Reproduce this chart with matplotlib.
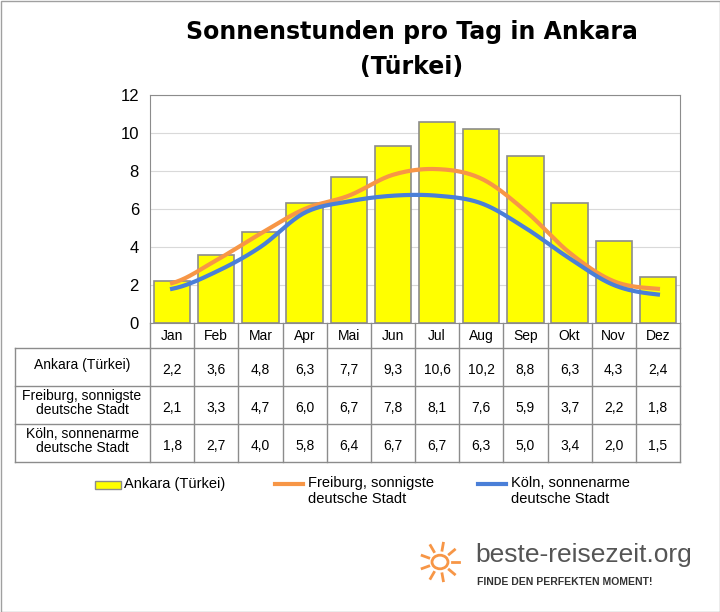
import numpy as np
import matplotlib.pyplot as plt
from matplotlib.lines import Line2D
from matplotlib.patches import Rectangle, Circle

plt.rcParams['font.family'] = 'Liberation Sans'

months = ["Jan", "Feb", "Mar", "Apr", "Mai", "Jun", "Jul", "Aug", "Sep", "Okt", "Nov", "Dez"]
ankara = [2.2, 3.6, 4.8, 6.3, 7.7, 9.3, 10.6, 10.2, 8.8, 6.3, 4.3, 2.4]
freiburg = [2.1, 3.3, 4.7, 6.0, 6.7, 7.8, 8.1, 7.6, 5.9, 3.7, 2.2, 1.8]
koeln = [1.8, 2.7, 4.0, 5.8, 6.4, 6.7, 6.7, 6.3, 5.0, 3.4, 2.0, 1.5]
row_labels = ["Ankara (Türkei)", "Freiburg, sonnigste\ndeutsche Stadt", "Köln, sonnenarme\ndeutsche Stadt"]

W, H = 720, 612
fig = plt.figure(figsize=(W / 100, H / 100), dpi=100)
fig.add_artist(Rectangle((0.5 / W, 0.5 / H), 1 - 1 / W, 1 - 1 / H, transform=fig.transFigure,
                         fill=False, edgecolor='#a0a0a0', lw=1))

def fx(px): return px / W
def fy(py): return 1 - py / H

L, R, T, B = 150, 680, 95, 323
ax = fig.add_axes([fx(L), fy(B), fx(R - L), (B - T) / H])
x = np.arange(12)
ax.bar(x, ankara, width=0.82, color='#FFFF00', edgecolor='#8c8c8c', lw=1.2, zorder=2)

def smooth(vals, n=20):
    p = np.array(vals, dtype=float)
    p = np.concatenate([[p[0]], p, [p[-1]]])
    xs, ys = [], []
    for i in range(1, len(p) - 2):
        t = np.linspace(0, 1, n, endpoint=False)
        p0, p1, p2, p3 = p[i - 1], p[i], p[i + 1], p[i + 2]
        y = 0.5 * (2 * p1 + (-p0 + p2) * t + (2 * p0 - 5 * p1 + 4 * p2 - p3) * t ** 2
                   + (-p0 + 3 * p1 - 3 * p2 + p3) * t ** 3)
        xs.extend(i - 1 + t); ys.extend(y)
    xs.append(len(vals) - 1); ys.append(vals[-1])
    return xs, ys

ax.plot(*smooth(freiburg), color='#F79646', lw=3, zorder=3)
ax.plot(*smooth(koeln), color='#4A7FD8', lw=3, zorder=4)
ax.set_xlim(-0.5, 11.5)
ax.set_ylim(0, 12)
ax.set_yticks(range(0, 13, 2))
ax.tick_params(axis='y', labelsize=12, length=0, pad=8)
ax.set_xticks([])
ax.grid(axis='y', color='#d9d9d9', lw=0.8, zorder=0)
for s in ax.spines.values():
    s.set_color('#8c8c8c')

fig.text(fx(412), fy(32), "Sonnenstunden pro Tag in Ankara", ha='center', va='center',
         fontsize=17, fontweight='bold', family='DejaVu Sans')
fig.text(fx(412), fy(67), "(Türkei)", ha='center', va='center', fontsize=17, fontweight='bold',
         family='DejaVu Sans')

# table
col_w = (R - L) / 12
rows_y = [323, 348, 386, 424, 462]
lc = '#8c8c8c'
def hline(y, x0, x1):
    fig.add_artist(Line2D([fx(x0), fx(x1)], [fy(y), fy(y)], color=lc, lw=1))
def vline(x0, y0, y1):
    fig.add_artist(Line2D([fx(x0), fx(x0)], [fy(y0), fy(y1)], color=lc, lw=1))
hline(348, 15, R); hline(386, 15, R); hline(424, 15, R); hline(462, 15, R)
vline(15, 348, 462)
for i in range(13):
    vline(L + i * col_w, 323, 462)
for i, m in enumerate(months):
    fig.text(fx(L + (i + 0.5) * col_w), fy(336), m, ha='center', va='center', fontsize=10)
for r, (lab, vals) in enumerate(zip(row_labels, [ankara, freiburg, koeln])):
    yc = (rows_y[r + 1] + rows_y[r + 2]) / 2
    fig.text(fx(82), fy(yc - 2), lab, ha='center', va='center', fontsize=10, linespacing=1.0)
    for i, v in enumerate(vals):
        fig.text(fx(L + (i + 0.5) * col_w), fy(yc + 3), f"{v:.1f}".replace('.', ','),
                 ha='center', va='center', fontsize=10)

# legend
fig.add_artist(Rectangle((fx(95), fy(489)), 26 / W, 8 / H, transform=fig.transFigure,
                         facecolor='#FFFF00', edgecolor='#8c8c8c', lw=1))
fig.text(fx(124), fy(484), "Ankara (Türkei)", va='center', fontsize=10.5)
fig.add_artist(Line2D([fx(275), fx(303)], [fy(484), fy(484)], color='#F79646', lw=3))
fig.text(fx(308), fy(491), "Freiburg, sonnigste\ndeutsche Stadt", va='center', fontsize=10.5, linespacing=1.1)
fig.add_artist(Line2D([fx(478), fx(506)], [fy(484), fy(484)], color='#4A7FD8', lw=3))
fig.text(fx(511), fy(491), "Köln, sonnenarme\ndeutsche Stadt", va='center', fontsize=10.5, linespacing=1.1)

# logo
cx, cy = 440, 562
fig.add_artist(Circle((fx(cx), fy(cy)), 8 / W, transform=fig.transFigure, fill=False,
                      edgecolor='#F79646', lw=2))
for a in np.linspace(0, 2 * np.pi, 9, endpoint=False):
    fig.add_artist(Line2D([fx(cx + 12 * np.cos(a)), fx(cx + 19 * np.cos(a))],
                          [fy(cy + 12 * np.sin(a)), fy(cy + 19 * np.sin(a))], color='#F79646', lw=2))
fig.text(fx(475), fy(555), "beste-reisezeit.org", va='center', fontsize=19, color='#555555')
fig.text(fx(477), fy(582), "FINDE DEN PERFEKTEN MOMENT!", va='center', fontsize=7.5,
         fontweight='bold', color='#333333')

fig.savefig("out.png", dpi=100)
